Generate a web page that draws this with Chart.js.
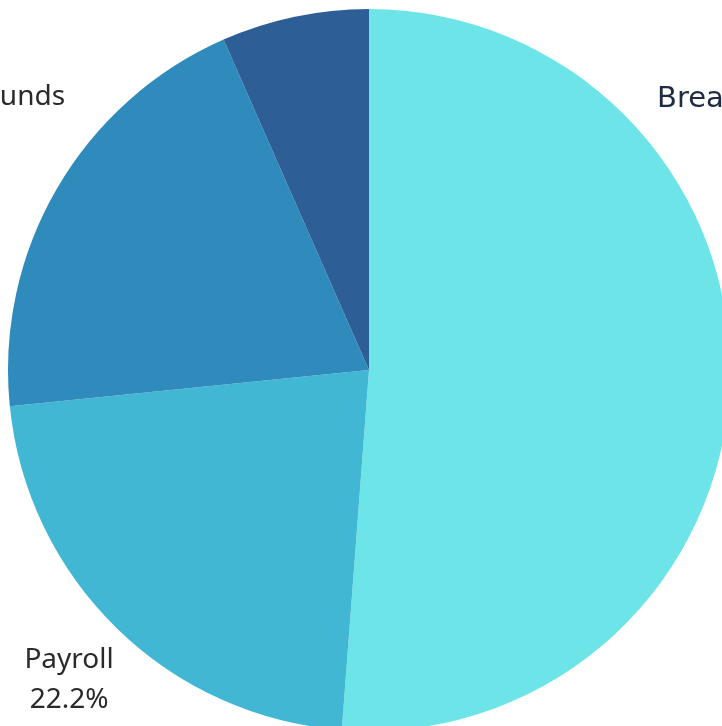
<!DOCTYPE html>
<html>
<head>
<meta charset="utf-8">
<script src="https://cdn.jsdelivr.net/npm/chart.js@4"></script>
<style>
  html, body { margin: 0; padding: 0; background: #ffffff; overflow: hidden; width: 722px; height: 726px; }
  /* a bit larger than the window, the pie runs past the right and bottom edges */
  .wrap { position: absolute; left: 0; top: 0; width: 740px; height: 740px; }
</style>
</head>
<body>
<div class="wrap"><canvas id="budget"></canvas></div>
<script>
// slices, clockwise from 12 o'clock
const categories = ["Breakfast Program Costs", "Payroll", "Contingency Funds", "Marketing"];
const shares = [51.2, 22.2, 20.0, 6.6];
const sliceColors = ["#6de4e7", "#42b7d4", "#2e8bbc", "#2e5e96"];

// where each label block sits: angle clockwise from top (null = slice middle),
// distance as a multiple of the radius, and which edge of the text the point is
const labelPlacement = [
  { angle: 48.7, dist: 1.062, align: "left", color: "#1d2c42", font: "29px 'DejaVu Sans'" },
  { angle: null, dist: 1.19, align: "center", color: "#2a2a2a", font: "28px 'Noto Sans'" },
  { angle: 310.0, dist: 1.099, align: "right", color: "#2a2a2a", font: "28px 'Noto Sans'" },
  { angle: null, dist: 1.19, align: "center", color: "#2a2a2a", font: "28px 'Noto Sans'" }
];

const outsideLabels = {
  id: "outsideLabels",
  afterDatasetsDraw(chart) {
    const ctx = chart.ctx;
    const arcs = chart.getDatasetMeta(0).data;
    const values = chart.data.datasets[0].data;
    const total = values.reduce((a, b) => a + b, 0);
    ctx.save();
    ctx.textBaseline = "alphabetic";
    ctx.textAlign = "center";
    arcs.forEach((arc, i) => {
      const p = labelPlacement[i];
      const { x, y, startAngle, endAngle, outerRadius } = arc.getProps(["x", "y", "startAngle", "endAngle", "outerRadius"], true);
      const a = p.angle === null ? (startAngle + endAngle) / 2 : (p.angle - 90) * Math.PI / 180;
      const ax = x + Math.cos(a) * outerRadius * p.dist;
      const ay = y + Math.sin(a) * outerRadius * p.dist;
      const lines = [chart.data.labels[i], (values[i] / total * 100).toFixed(1) + "%"];
      ctx.font = p.font;
      const w = Math.max(...lines.map(t => ctx.measureText(t).width));
      let cx = ax;
      if (p.align === "left") cx = ax + w / 2;
      if (p.align === "right") cx = ax - w / 2;
      ctx.fillStyle = p.color;
      ctx.fillText(lines[0], cx, ay - 10);
      ctx.fillText(lines[1], cx, ay + 30);
    });
    ctx.restore();
  }
};

new Chart(document.getElementById("budget"), {
  type: "pie",
  data: {
    labels: categories,
    datasets: [{
      data: shares,
      backgroundColor: sliceColors,
      borderWidth: 0,
      hoverOffset: 0
    }]
  },
  options: {
    responsive: true,
    maintainAspectRatio: false,
    animation: false,
    layout: { padding: { left: 8, top: 9, right: 10, bottom: 9 } },
    plugins: {
      legend: { display: false },
      tooltip: { enabled: false }
    }
  },
  plugins: [outsideLabels]
});
</script>
</body>
</html>
